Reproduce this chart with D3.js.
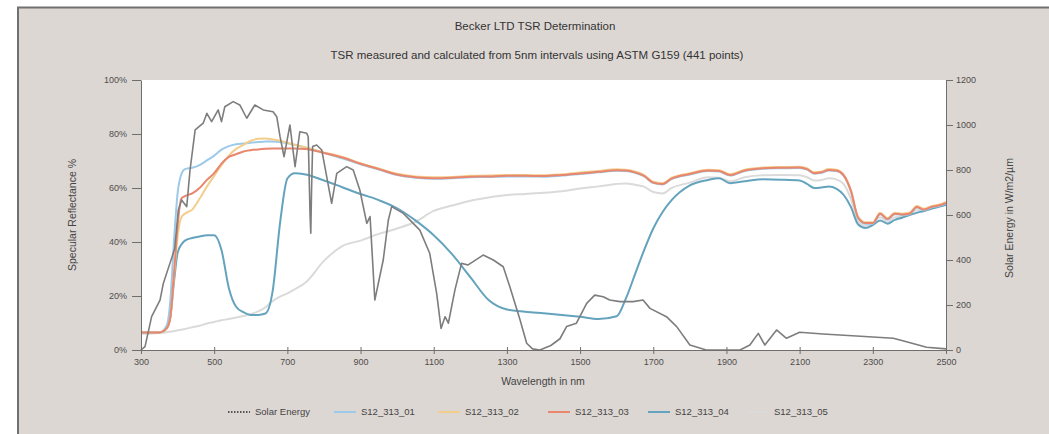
<!DOCTYPE html>
<html>
<head>
<meta charset="utf-8">
<script src="https://cdn.jsdelivr.net/npm/d3@7"></script>
<style>
  body { margin: 0; background: #fff; }
  svg { display: block; font-family: "Liberation Sans", Arial, sans-serif; }
  .tick text { fill: #4d4d4d; font-size: 9px; }
  .axis path, .axis line { stroke: #6e6e6e; }
</style>
</head>
<body>
<svg width="1049" height="434"></svg>
<script>
// Wavelength grid (nm) shared by the reflectance series
var wavelengths = [300, 350, 370, 380, 390, 400, 410, 420, 440, 460, 480, 500, 520, 540, 560, 580, 600, 620, 640, 660,
  680, 700, 720, 750, 800, 850, 900, 950, 1000, 1050, 1100, 1150, 1200, 1250, 1300, 1350, 1400, 1450, 1500, 1550,
  1600, 1625, 1650, 1675, 1700, 1725, 1750, 1800, 1850, 1880, 1910, 1950, 2000, 2050, 2100, 2120, 2140, 2160, 2180, 2200,
  2220, 2240, 2260, 2280, 2300, 2320, 2340, 2360, 2380, 2400, 2420, 2440, 2460, 2480, 2500];

// Specular reflectance, %
var s01 = [6.5, 6.5, 9, 18, 40, 58, 65, 67, 67.5, 68.5, 70.2, 72, 74.2, 75.5, 76.2, 76.5, 76.8, 77, 77.2, 77.2,
  77, 76.6, 76, 75, 73, 71, 68.8, 66.8, 64.8, 63.8, 63.4, 63.6, 64, 64.1, 64.3, 64.3, 64.2, 64.6, 65.2, 65.8,
  66.4, 66.3, 65.6, 64.3, 61.8, 61.3, 63.3, 65, 66.3, 66.1, 64.6, 66.3, 67.1, 67.3, 67.4, 66.8, 65.3, 65.6, 66.5, 66.3,
  64.6, 58.8, 48.8, 46.8, 46.8, 50.3, 48.3, 50.3, 50, 50.3, 52.8, 51.8, 52.8, 53.3, 54.3];
var s02 = [6.5, 6.5, 8, 12, 27, 42, 49, 50.5, 52, 56, 60.5, 64.5, 68.5, 72, 74.5, 76, 77.5, 78.2, 78.3, 78,
  77.5, 76.8, 76, 75, 73.2, 71.5, 69.2, 67.2, 65.3, 64.3, 64, 64.1, 64.5, 64.6, 64.8, 64.8, 64.7, 65.1, 65.7, 66.3,
  66.9, 66.8, 66.1, 64.8, 62.3, 61.8, 63.8, 65.5, 66.8, 66.6, 65.1, 66.8, 67.6, 67.8, 67.9, 67.3, 65.8, 66.1, 67, 66.8,
  65, 59.3, 49.3, 47.3, 47.3, 50.8, 48.8, 50.8, 50.5, 50.8, 53.3, 52.3, 53.3, 53.8, 54.8];
var s03 = [6.5, 6.5, 8, 12, 28, 46, 56, 57, 58, 60, 63, 65.5, 69, 71.5, 72.5, 73.5, 74, 74.3, 74.5, 74.6,
  74.6, 74.6, 74.6, 74.4, 73, 71.3, 69, 67, 65, 64, 63.6, 63.8, 64.2, 64.3, 64.5, 64.5, 64.4, 64.8, 65.4, 66,
  66.6, 66.5, 65.8, 64.5, 62, 61.5, 63.5, 65.2, 66.5, 66.3, 64.8, 66.5, 67.3, 67.5, 67.6, 67, 65.5, 65.8, 66.7, 66.5,
  64.8, 59, 49, 47, 47, 50.5, 48.5, 50.5, 50.2, 50.5, 53, 52, 53, 53.5, 54.5];
var s04 = [6.5, 6.5, 8, 12, 25, 36, 39, 40.5, 41.5, 42, 42.5, 42.5, 37, 23, 16, 14, 13, 13, 13.5, 22,
  47, 63.5, 65.5, 65, 62.8, 60.3, 57.8, 55.5, 52.5, 48, 42.5, 35.5, 27, 18.5, 15, 14.2, 13.6, 13, 12.3, 11.5,
  12.5, 19, 28, 37, 45, 51, 55.5, 61, 63, 63.6, 61.8, 62.5, 63.2, 63.1, 62.8, 61.5, 60, 60.2, 60.6, 59.8,
  57.5, 53, 46.5, 45.2, 46.3, 48, 46.8, 48.2, 49, 50, 50.8, 51.5, 52.3, 53, 53.8];
var s05 = [6, 6.3, 6.6, 6.8, 7, 7.3, 7.5, 7.8, 8.4, 9, 9.8, 10.4, 11, 11.5, 12, 12.6, 13.3, 14.3, 15.8, 18.2,
  19.8, 21, 22.5, 25, 33, 38.5, 40.5, 43, 45, 47.5, 51.5, 53.5, 55.3, 56.5, 57.4, 57.8, 58.2, 58.8, 59.8, 60.6,
  61.5, 61.7, 61.2, 60.5, 58.5, 58, 60, 62, 64, 63.8, 62.5, 64, 64.7, 64.8, 64.7, 64, 62.8, 63, 63.6, 63.2,
  61.5, 56, 47.5, 46, 46.8, 49.2, 47.5, 49.2, 49.3, 50, 51.8, 51.5, 52.6, 53.2, 54];

// Solar energy (right axis)
var solarNm = [300, 311, 329, 352, 361, 379, 392, 402, 411, 425, 434, 448, 470, 480, 493, 511, 520, 529, 552, 570,
  589, 611, 634, 661, 671, 680, 691, 707, 721, 734, 753, 757, 762, 764, 766, 769, 780, 794, 821, 835,
  862, 880, 898, 917, 926, 939, 962, 976, 985, 1017, 1062, 1089, 1108, 1120, 1131, 1140, 1158, 1176, 1194, 1235,
  1263, 1290, 1308, 1336, 1354, 1370, 1390, 1420, 1445, 1463, 1490, 1518, 1540, 1563, 1581, 1609, 1645, 1672, 1691, 1736,
  1764, 1800, 1845, 1937, 1964, 1987, 2005, 2037, 2064, 2100, 2164, 2255, 2356, 2392, 2447, 2500];
var solarW = [0, 15, 148, 222, 296, 385, 450, 622, 667, 637, 800, 978, 1008, 1052, 1015, 1067, 1015, 1081, 1104, 1089,
  1030, 1089, 1067, 1059, 1037, 948, 859, 1000, 815, 970, 963, 948, 600, 519, 700, 904, 911, 889, 652, 785,
  815, 800, 711, 563, 593, 222, 400, 578, 637, 607, 533, 430, 252, 96, 148, 119, 267, 385, 378, 422,
  400, 370, 281, 133, 30, 5, 0, 20, 50, 104, 119, 207, 244, 237, 222, 215, 215, 222, 185, 148,
  104, 22, 0, 0, 22, 74, 22, 89, 52, 79, 71, 62, 52, 37, 12, 5];

var seriesNames = ["S12_313_01", "S12_313_02", "S12_313_03", "S12_313_04", "S12_313_05"];
var seriesValues = [s01, s02, s03, s04, s05];
var seriesColors = ["#9ccaea", "#f3cd8c", "#e8866e", "#64a3bd", "#dadada"];

var xTicks = [300, 500, 700, 900, 1100, 1300, 1500, 1700, 1900, 2100, 2300, 2500];
var leftTicks = [0, 20, 40, 60, 80, 100];
var rightTicks = [0, 200, 400, 600, 800, 1000, 1200];

var svg = d3.select("svg"),
    width = +svg.attr("width"),
    height = +svg.attr("height");

var plot = { left: 141, right: 946, top: 80, bottom: 350 };

// grey panel with dark top/left edge
svg.append("rect").attr("x", 18).attr("y", 7).attr("width", width).attr("height", height)
    .attr("fill", "#ddd7d3");
svg.append("path").attr("d", "M18," + height + "V7.5H" + width)
    .attr("fill", "none").attr("stroke", "#707070").attr("stroke-width", 2);

svg.append("rect")
    .attr("x", plot.left).attr("y", plot.top)
    .attr("width", plot.right - plot.left).attr("height", plot.bottom - plot.top)
    .attr("fill", "#fff");

var x = d3.scaleLinear().domain([300, 2500]).range([plot.left, plot.right]);
var yL = d3.scaleLinear().domain([0, 100]).range([plot.bottom, plot.top]);
var yR = d3.scaleLinear().domain([0, 1200]).range([plot.bottom, plot.top]);

// titles
svg.append("text").attr("x", 535).attr("y", 30).attr("text-anchor", "middle")
    .attr("font-size", 11.5).attr("fill", "#333").text("Becker LTD TSR Determination");
svg.append("text").attr("x", 537).attr("y", 59).attr("text-anchor", "middle")
    .attr("font-size", 11.5).attr("fill", "#333")
    .text("TSR measured and calculated from 5nm intervals using ASTM G159 (441 points)");

// reflectance lines
var refLine = d3.line()
    .x(function(d, i) { return x(wavelengths[i]); })
    .y(function(d) { return yL(d); })
    .curve(d3.curveMonotoneX);

var drawOrder = [4, 3, 0, 1, 2];
svg.append("g").selectAll("path")
    .data(drawOrder)
    .enter().append("path")
      .attr("d", function(k) { return refLine(seriesValues[k]); })
      .attr("fill", "none")
      .attr("stroke", function(k) { return seriesColors[k]; })
      .attr("stroke-width", 2);

// solar energy
var solarLine = d3.line()
    .x(function(d, i) { return x(solarNm[i]); })
    .y(function(d) { return yR(d); });

svg.append("path")
    .attr("d", solarLine(solarW))
    .attr("fill", "none")
    .attr("stroke", "#7d7d7d")
    .attr("stroke-width", 1.6)
    .attr("stroke-linejoin", "round");

// axes
svg.append("g").attr("class", "axis")
    .attr("transform", "translate(0," + plot.bottom + ")")
    .call(d3.axisBottom(x).tickValues(xTicks).tickSize(4).tickSizeOuter(0).tickFormat(d3.format("d")))
    .call(function(g) { g.selectAll(".tick line").attr("y1", -3); g.selectAll(".tick text").attr("dy", "0.9em"); });

svg.append("g").attr("class", "axis")
    .attr("transform", "translate(" + plot.left + ",0)")
    .call(d3.axisLeft(yL).tickValues(leftTicks).tickSize(9).tickSizeOuter(0)
        .tickFormat(function(d) { return d + "%"; }))
    .call(function(g) { g.selectAll(".tick text").attr("x", -14); });

svg.append("g").attr("class", "axis")
    .attr("transform", "translate(" + plot.right + ",0)")
    .call(d3.axisRight(yR).tickValues(rightTicks).tickSize(7).tickSizeOuter(0).tickFormat(d3.format("d")))
    .call(function(g) { g.selectAll(".tick text").attr("x", 10); });

// axis titles
svg.append("text").attr("x", 543).attr("y", 385).attr("text-anchor", "middle")
    .attr("font-size", 10.5).attr("fill", "#444").text("Wavelength in nm");
svg.append("text").attr("transform", "translate(76,215) rotate(-90)")
    .attr("text-anchor", "middle").attr("font-size", 10.5).attr("fill", "#444")
    .text("Specular Reflectance %");
svg.append("text").attr("transform", "translate(1013,218) rotate(-90)")
    .attr("text-anchor", "middle").attr("font-size", 10.5).attr("fill", "#444")
    .text("Solar Energy in W/m2/µm");

// legend
var legendItems = [{ name: "Solar Energy", color: "#555", dash: "1.5,1.5", x: 228 }]
    .concat(seriesNames.map(function(n, i) {
      return { name: n, color: seriesColors[i], dash: null, x: [334, 438, 548, 648, 747][i] };
    }));

var legend = svg.append("g").selectAll("g")
    .data(legendItems)
    .enter().append("g")
      .attr("transform", function(d) { return "translate(" + d.x + ",412)"; });

legend.append("line")
    .attr("x1", 0).attr("x2", 22)
    .attr("stroke", function(d) { return d.color; })
    .attr("stroke-width", 2)
    .attr("stroke-dasharray", function(d) { return d.dash; });

legend.append("text")
    .attr("x", 27).attr("dy", "0.35em")
    .attr("font-size", 9.5).attr("fill", "#444")
    .text(function(d) { return d.name; });
</script>
</body>
</html>
